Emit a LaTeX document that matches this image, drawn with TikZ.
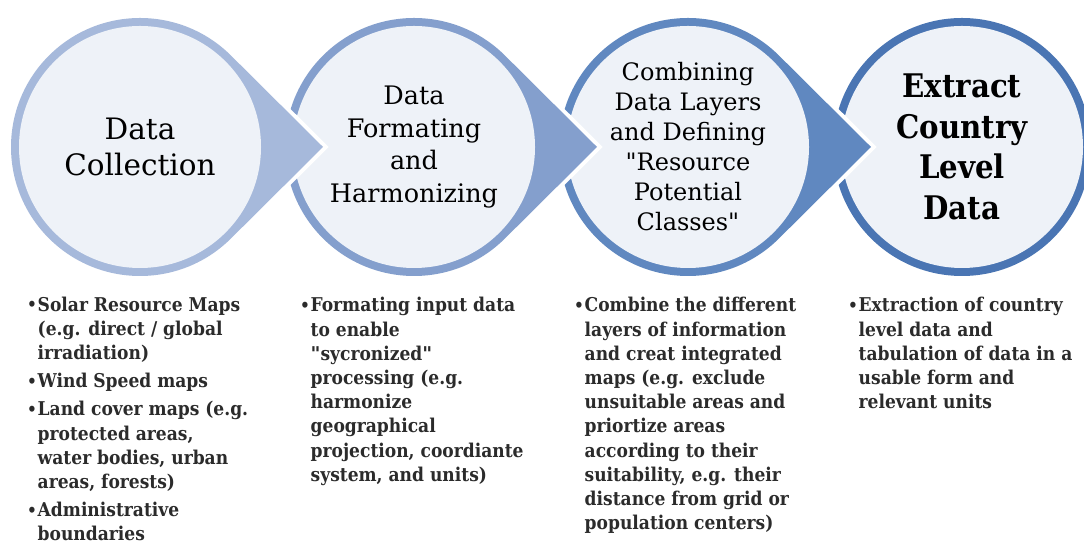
\documentclass[tikz,border=0pt]{standalone}
\usepackage{fontspec}
\setmainfont{DejaVu Serif}
\newfontfamily\condfont{DejaVu Serif Condensed}
\newfontfamily\plainserif{DejaVu Serif}
\definecolor{ringA}{HTML}{A6B9DB}
\definecolor{ringB}{HTML}{849FCD}
\definecolor{ringC}{HTML}{6088C0}
\definecolor{ringD}{HTML}{4A75B3}
\definecolor{innerfill}{HTML}{EEF2F8}
\definecolor{bodygray}{HTML}{2B2B2B}
\newcommand\stagedrop[2]{%
  \fill[white] ([shift={(45:133)}]#1) -- ([shift={(188.7,0)}]#1) -- ([shift={(-45:133)}]#1)
     arc[start angle=-45,end angle=-315,radius=133] -- cycle;
  \fill[#2] ([shift={(45:129)}]#1) -- ([shift={(183,0)}]#1) -- ([shift={(-45:129)}]#1)
     arc[start angle=-45,end angle=-315,radius=129] -- cycle;
  \fill[innerfill] (#1) circle[radius=121];
}
\newcommand\bulmark{\makebox[10.5pt][l]{\raisebox{0.5pt}{\fontsize{17}{17}\selectfont\textbullet}}}
\newcommand\bulind{\hspace*{10.5pt}}
\newcommand\dq{{\plainserif\symbol{34}}}
\begin{document}
\begin{tikzpicture}[x=1pt,y=1pt,
  stagetitle/.style={align=center, text=black, inner sep=0pt},
  bodytext/.style={anchor=base west, align=left, inner sep=0pt, text=bodygray,
    font=\condfont\bfseries\fontsize{19}{24.2}\selectfont}]
\useasboundingbox (0,0) rectangle (1084,545);
\clip (0,0) rectangle (1084,545);
\coordinate (C1) at (140,398);
\coordinate (C2) at (414,398);
\coordinate (C3) at (688,398);
\coordinate (C4) at (962,398);
\fill[ringD] (C4) circle[radius=129];
\fill[innerfill] (C4) circle[radius=121];
\stagedrop{C3}{ringC}
\stagedrop{C2}{ringB}
\stagedrop{C1}{ringA}
\node[stagetitle, font=\fontsize{29.5}{36}\selectfont] (s1) at (C1) {Data\\Collection};
\node[stagetitle, font=\fontsize{25.5}{32.5}\selectfont] (s2) at (C2) {Data\\Formating\\and\\Harmonizing};
\node[stagetitle, font=\fontsize{24}{30}\selectfont] (s3) at (C3) {Combining\\Data Layers\\and Defining\\\dq Resource\\Potential\\Classes\dq};
\node[stagetitle, font=\condfont\bfseries\fontsize{32.5}{40.5}\selectfont] (s4) at (C4) {Extract\\Country\\Level\\Data};
\node[bodytext] (b1) at (27,4) {\bulmark Solar Resource Maps\\\bulind (e.g. direct / global\\\bulind irradiation)\\[4pt]\bulmark Wind Speed maps\\[4pt]\bulmark Land cover maps (e.g.\\\bulind protected areas,\\\bulind water bodies, urban\\\bulind areas, forests)\\[4pt]\bulmark Administrative\\\bulind boundaries};
\node[bodytext] (b2) at (300,63.6) {\bulmark Formating input data\\\bulind to enable\\\bulind \dq sycronized\dq\\\bulind processing (e.g.\\\bulind harmonize\\\bulind geographical\\\bulind projection, coordiante\\\bulind system, and units)};
\node[bodytext] (b3) at (574,15.2) {\bulmark Combine the different\\\bulind layers of information\\\bulind and creat integrated\\\bulind maps (e.g. exclude\\\bulind unsuitable areas and\\\bulind priortize areas\\\bulind according to their\\\bulind suitability, e.g. their\\\bulind distance from grid or\\\bulind population centers)};
\node[bodytext] (b4) at (848,136.2) {\bulmark Extraction of country\\\bulind level data and\\\bulind tabulation of data in a\\\bulind usable form and\\\bulind relevant units};
\end{tikzpicture}
\end{document}
